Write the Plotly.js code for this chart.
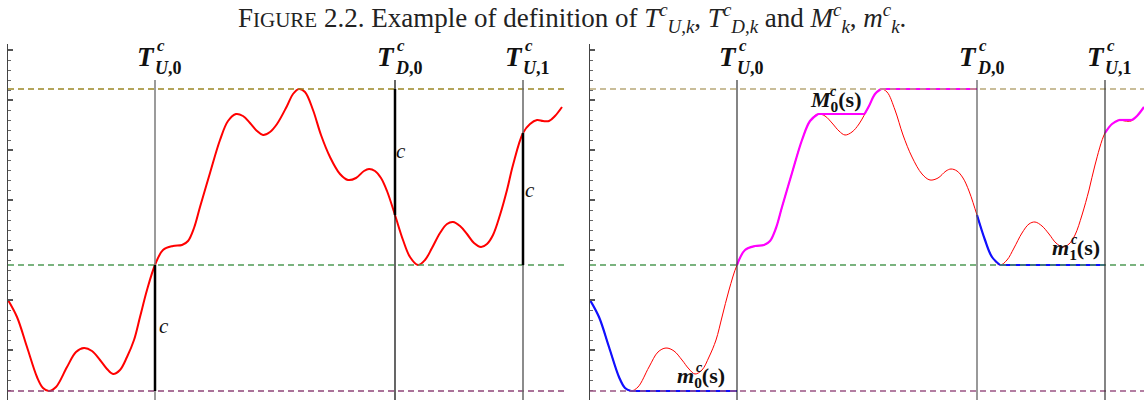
<!DOCTYPE html>
<html>
<head>
<meta charset="utf-8">
<script src="https://cdn.plot.ly/plotly-3.0.1.min.js"></script>
<style>
  html, body { margin: 0; padding: 0; background: #fff; }
  #plotArea { width: 1144px; height: 400px; }
</style>
</head>
<body>
<div id="plotArea"></div>
<script>
// ---------- data ----------
// time s, and the path value at that time (same path in both panels)
const sVals = [0.0, 0.9, 1.9, 2.9, 3.5, 4.1, 4.8, 5.9, 6.8, 7.6, 8.4, 9.2, 9.9, 10.5, 11.2, 11.9, 12.6, 13.2, 13.9, 14.7,
  15.5, 16.5, 17.4, 18.0, 18.6, 19.2, 20.2, 21.2, 22.0, 22.8, 23.5, 24.2, 24.9, 25.5, 26.2, 26.9, 27.9, 28.5, 29.1,
  29.7, 30.5, 31.3, 32.2, 33.2, 34.0, 34.8, 35.6, 36.1, 36.7, 37.3, 37.9, 38.7, 39.5, 40.2, 41.0, 41.7, 42.4, 43.2,
  43.9, 44.5, 45.2, 45.9, 46.6, 47.3, 47.9, 48.5, 49.2, 49.9, 50.5, 51.5, 52.2, 52.9, 53.5, 54.1, 54.7, 55.4];
const pathVals = [10.0, 8.3, 5.3, 2.3, 1.2, 0.9, 1.3, 3.3, 4.8, 5.2, 4.9, 4.0, 3.1, 2.6, 3.0, 4.3, 6.0, 8.3, 11.0, 13.5,
  15.0, 15.4, 15.5, 15.9, 17.2, 19.3, 22.7, 26.0, 27.9, 28.6, 28.4, 27.7, 26.9, 26.5, 26.8, 27.6, 29.4, 30.6, 31.1,
  30.8, 29.0, 26.5, 24.3, 22.6, 22.0, 22.2, 22.9, 23.1, 22.9, 22.2, 20.9, 18.5, 16.0, 14.3, 13.5, 14.0, 15.2, 16.7,
  17.6, 17.8, 17.4, 16.6, 15.7, 15.3, 15.6, 16.5, 18.5, 21.0, 23.5, 26.7, 27.6, 28.0, 27.9, 27.9, 28.4, 29.3];

// stopping times
const tU0 = 14.7, tD0 = 38.7, tU1 = 51.5;
// levels: m_0 (bottom), m_1 = m_0 + c (green), M_0 (top)
const levelLow = 0.9, levelMid = 13.5, levelTop = 31.1;
const cValue = 12.6;

// ---------- helpers ----------
// running max / min of the path between t0 and t1, split into curve pieces and flat pieces
function envelope(t0, t1, mode) {
  const better = mode === 'max' ? (a, b) => a >= b : (a, b) => a <= b;
  const pieces = [];
  let ext = null, extS = null, cur = null, prevS = null, prevY = null;
  for (let i = 0; i < sVals.length; i++) {
    const s = sVals[i], y = pathVals[i];
    if (s < t0 - 1e-9 || s > t1 + 1e-9) continue;
    if (ext === null) {
      ext = y; extS = s; cur = { kind: 'curve', x: [s], y: [y] };
    } else if (better(y, ext)) {
      if (cur.kind === 'flat') {
        // where the path gets back to the level
        const sx = prevS + (ext - prevY) / (y - prevY) * (s - prevS);
        cur.x.push(sx); cur.y.push(ext);
        pieces.push(cur);
        cur = { kind: 'curve', x: [sx], y: [ext] };
      }
      cur.x.push(s); cur.y.push(y);
      ext = y; extS = s;
    } else if (cur.kind === 'curve') {
      pieces.push(cur);
      cur = { kind: 'flat', x: [extS], y: [ext] };
    }
    prevS = s; prevY = y;
  }
  if (cur.kind === 'flat') { cur.x.push(t1); cur.y.push(ext); }
  pieces.push(cur);
  return pieces;
}

function envTraces(t0, t1, mode, color, xa, ya) {
  return envelope(t0, t1, mode).map(p => ({
    x: p.x, y: p.y, xaxis: xa, yaxis: ya, mode: 'lines', type: 'scatter', hoverinfo: 'skip',
    line: { color: color, width: 2.2, shape: p.kind === 'curve' ? 'spline' : 'linear' }
  }));
}

// ---------- traces ----------
const leftPath = {
  x: sVals, y: pathVals, xaxis: 'x', yaxis: 'y', mode: 'lines', type: 'scatter', hoverinfo: 'skip',
  line: { color: '#ff0000', width: 2, shape: 'spline' }
};
const rightPath = {
  x: sVals, y: pathVals, xaxis: 'x2', yaxis: 'y2', mode: 'lines', type: 'scatter', hoverinfo: 'skip',
  line: { color: '#ff0000', width: 1, shape: 'spline' }
};

const blue = '#1010ff', magenta = '#ff00ff';
const dataSet = [leftPath, rightPath]
  .concat(envTraces(0, tU0, 'min', blue, 'x2', 'y2'))
  .concat(envTraces(tU0, tD0, 'max', magenta, 'x2', 'y2'))
  .concat(envTraces(tD0, tU1, 'min', blue, 'x2', 'y2'))
  .concat(envTraces(tU1, sVals[sVals.length - 1], 'max', magenta, 'x2', 'y2'));

// ---------- shapes ----------
const lineTop = 32;  // vertical lines start a little above M_0
function hDash(xa, ya, level, color) {
  return { type: 'line', xref: xa + ' domain', yref: ya, x0: 0, x1: 1, y0: level, y1: level,
    line: { color: color, width: 1.3, dash: '6px,4px' } };
}
function vSeg(xa, ya, t, y0, y1, color, width) {
  return { type: 'line', xref: xa, yref: ya, x0: t, x1: t, y0: y0, y1: y1, line: { color: color, width: width } };
}
const thin = '#333333', thick = '#000000';
const shapes = [
  hDash('x', 'y', levelTop, '#9a8624'), hDash('x', 'y', levelMid, '#4f9a55'), hDash('x', 'y', levelLow, '#8e4478'),
  hDash('x2', 'y2', levelTop, '#b8a878'), hDash('x2', 'y2', levelMid, '#4f9a55'), hDash('x2', 'y2', levelLow, '#9a5484'),
  // left panel: the c distances drawn thick
  vSeg('x', 'y', tU0, levelMid, lineTop, '#7a7a7a', 1.5),
  vSeg('x', 'y', tU0, 0, levelLow, '#7a7a7a', 1.5),
  vSeg('x', 'y', tU0, levelLow, levelMid, thick, 2.5),
  vSeg('x', 'y', tD0, 0, levelTop - cValue, thick, 1.2),
  vSeg('x', 'y', tD0, levelTop, lineTop, thick, 1.2),
  vSeg('x', 'y', tD0, levelTop - cValue, levelTop, thick, 2.5),
  vSeg('x', 'y', tU1, 0, levelMid, '#666666', 1.5),
  vSeg('x', 'y', tU1, levelMid + 13.2, lineTop, '#666666', 1.5),
  vSeg('x', 'y', tU1, levelMid, levelMid + 13.2, thick, 2.5),
  // right panel
  vSeg('x2', 'y2', tU0, 0, lineTop, thin, 1.2),
  vSeg('x2', 'y2', tD0, 0, lineTop, '#555555', 1.2),
  vSeg('x2', 'y2', tU1, 0, lineTop, thin, 1.2)
];

// ---------- annotations ----------
const serif = 'Liberation Serif';
function note(xa, ya, x, y, text, size, xshift, extra) {
  return Object.assign({ xref: xa, yref: ya, x: x, y: y, text: text, showarrow: false, xshift: xshift || 0,
    borderpad: 0, xanchor: 'center', yanchor: 'middle', font: { family: serif, size: size, color: '#111' } }, extra || {});
}
// T with c stacked over the subscript: three pieces that sit side by side
function tLabel(xa, ya, t, sub) {
  return [
    note(xa, ya, t, 34.3, '<b><i>T</i></b>', 27, 1, { xanchor: 'right' }),
    note(xa, ya, t, 35.4, '<b><i>c</i></b>', 17, 1, { xanchor: 'left' }),
    note(xa, ya, t, 33.2, '<b><i>' + sub[0] + '</i>,' + sub[1] + '</b>', 18, -1, { xanchor: 'left' })
  ];
}
function mLabel(xa, ya, x, y, letter, idx) {
  return [
    note(xa, ya, x, y, '<b><i>' + letter + '</i><sub>' + idx + '</sub>(s)</b>', 22, 0),
    note(xa, ya, x, y + 1.0, '<b><i>c</i></b>', 14, -2)
  ];
}
const annotations = [
  { xref: 'paper', yref: 'paper', x: 0.5, y: 1, xanchor: 'center', yanchor: 'top', yshift: 3, showarrow: false,
    font: { family: serif, size: 27, color: '#222' },
    text: 'F<span style="font-size:21px">IGURE</span> 2.2. Example of definition of ' +
      '<i>T</i><sup><i>c</i></sup><sub><i>U</i>,<i>k</i></sub>, <i>T</i><sup><i>c</i></sup><sub><i>D</i>,<i>k</i></sub> and ' +
      '<i>M</i><sup><i>c</i></sup><sub><i>k</i></sub>, <i>m</i><sup><i>c</i></sup><sub><i>k</i></sub>.' },
  note('x', 'y', tU0, 7.4, '<i>c</i>', 21, 9),
  note('x', 'y', tD0, 24.9, '<i>c</i>', 21, 6),
  note('x', 'y', tU1, 21.0, '<i>c</i>', 21, 7)
]
  .concat(tLabel('x', 'y', tU0, 'U0'), tLabel('x', 'y', tD0, 'D0'), tLabel('x', 'y', tU1, 'U1'))
  .concat(tLabel('x2', 'y2', tU0, 'U0'), tLabel('x2', 'y2', tD0, 'D0'), tLabel('x2', 'y2', tU1, 'U1'))
  .concat(mLabel('x2', 'y2', 24.5, 29.9, 'M', '0'), mLabel('x2', 'y2', 11.1, 2.3, 'm', '0'), mLabel('x2', 'y2', 48.6, 15.1, 'm', '1'));

// ---------- layout ----------
const yStyle = {
  domain: [0, 0.89], range: [0, 35.6], showgrid: false, zeroline: false, showticklabels: false,
  showline: true, linecolor: '#444', linewidth: 1.5,
  ticks: 'inside', ticklen: 5, tickwidth: 1.2, tickcolor: '#555', tick0: 0, dtick: 5,
  minor: { ticks: 'inside', ticklen: 3, tickwidth: 1, tickcolor: '#666', tick0: 0, dtick: 1, showgrid: false }
};
const layout = {
  width: 1144, height: 400,
  margin: { l: 0, r: 0, t: 0, b: 0 },
  paper_bgcolor: '#fff', plot_bgcolor: '#fff',
  showlegend: false,
  xaxis: { domain: [8 / 1144, 565 / 1144], range: [0, 55.7], visible: false, anchor: 'y' },
  xaxis2: { domain: [590 / 1144, 1], range: [0, 55.4], visible: false, anchor: 'y2' },
  yaxis: Object.assign({ anchor: 'x' }, yStyle),
  yaxis2: Object.assign({ anchor: 'x2' }, yStyle),
  shapes: shapes,
  annotations: annotations
};

Plotly.newPlot('plotArea', dataSet, layout, { staticPlot: true });
</script>
</body>
</html>
